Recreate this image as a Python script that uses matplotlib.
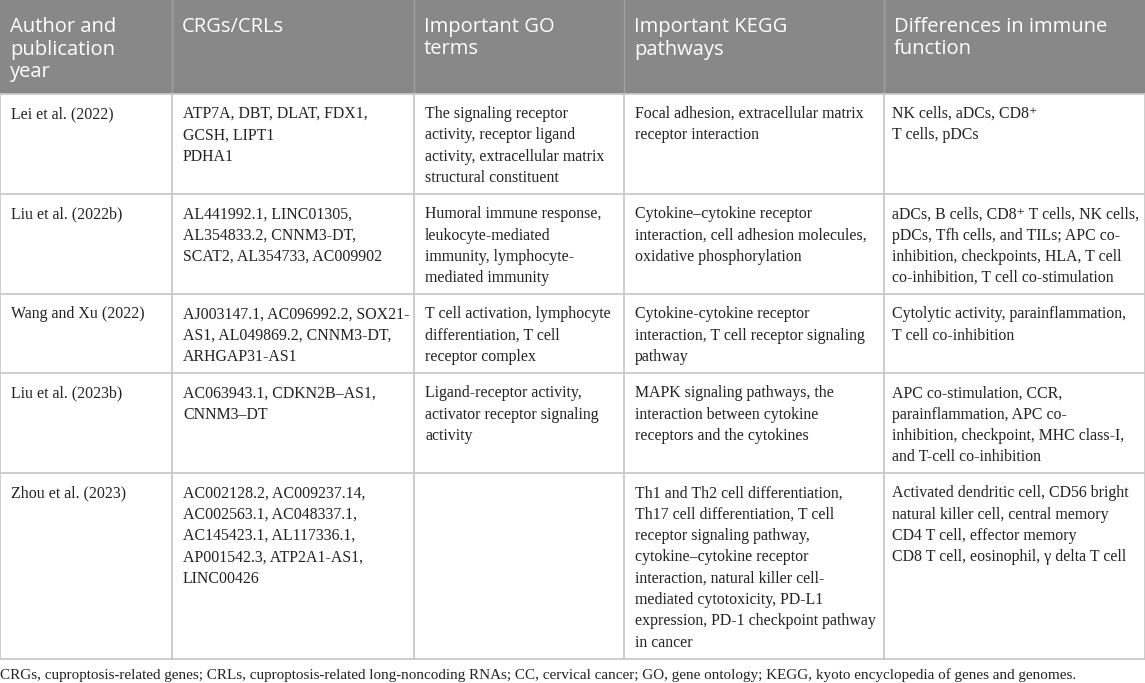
import matplotlib.pyplot as plt
from matplotlib.patches import Rectangle

headers = [
    ["Author and", "publication", "year"],
    ["CRGs/CRLs"],
    ["Important GO", "terms"],
    ["Important KEGG", "pathways"],
    ["Differences in immune", "function"],
]

authors = [
    ["Lei et al. (2022)"],
    ["Liu et al. (2022b)"],
    ["Wang and Xu (2022)"],
    ["Liu et al. (2023b)"],
    ["Zhou et al. (2023)"],
]

crgs = [
    ["ATP7A, DBT, DLAT, FDX1,", "GCSH, LIPT1", "PDHA1"],
    ["AL441992.1, LINC01305,", "AL354833.2, CNNM3-DT,", "SCAT2, AL354733, AC009902"],
    ["AJ003147.1, AC096992.2, SOX21-", "AS1, AL049869.2, CNNM3-DT,", "ARHGAP31-AS1"],
    ["AC063943.1, CDKN2B\u2013AS1,", "CNNM3\u2013DT"],
    ["AC002128.2, AC009237.14,", "AC002563.1, AC048337.1,", "AC145423.1, AL117336.1,",
     "AP001542.3, ATP2A1-AS1,", "LINC00426"],
]

go_terms = [
    ["The signaling receptor", "activity, receptor ligand", "activity, extracellular matrix",
     "structural constituent"],
    ["Humoral immune response,", "leukocyte-mediated", "immunity, lymphocyte-", "mediated immunity"],
    ["T cell activation, lymphocyte", "differentiation, T cell", "receptor complex"],
    ["Ligand-receptor activity,", "activator receptor signaling", "activity"],
    [],
]

kegg = [
    ["Focal adhesion, extracellular matrix", "receptor interaction"],
    ["Cytokine\u2013cytokine receptor", "interaction, cell adhesion molecules,",
     "oxidative phosphorylation"],
    ["Cytokine-cytokine receptor", "interaction, T cell receptor signaling", "pathway"],
    ["MAPK signaling pathways, the", "interaction between cytokine", "receptors and the cytokines"],
    ["Th1 and Th2 cell differentiation,", "Th17 cell differentiation, T cell",
     "receptor signaling pathway,", "cytokine\u2013cytokine receptor",
     "interaction, natural killer cell-", "mediated cytotoxicity, PD-L1",
     "expression, PD-1 checkpoint pathway", "in cancer"],
]

immune = [
    ["NK cells, aDCs, CD8\u207a", "T cells, pDCs"],
    ["aDCs, B cells, CD8\u207a T cells, NK cells,", "pDCs, Tfh cells, and TILs; APC co-",
     "inhibition, checkpoints, HLA, T cell", "co-inhibition, T cell co-stimulation"],
    ["Cytolytic activity, parainflammation,", "T cell co-inhibition"],
    ["APC co-stimulation, CCR,", "parainflammation, APC co-",
     "inhibition, checkpoint, MHC class-I,", "and T-cell co-inhibition"],
    ["Activated dendritic cell, CD56 bright", "natural killer cell, central memory",
     "CD4 T cell, effector memory", "CD8 T cell, eosinophil, \u03b3 delta T cell"],
]

footnote = ("CRGs, cuproptosis-related genes; CRLs, cuproptosis-related long-noncoding RNAs; "
            "CC, cervical cancer; GO, gene ontology; KEGG, kyoto encyclopedia of genes and genomes.")

columns = [authors, crgs, go_terms, kegg, immune]

# layout in pixels
col_x = [0, 172, 414, 624, 884, 1145]
pad_x = [11, 11, 11, 11, 8]
header_h = 94
line_h = 21.3
pad = 15

row_y = [header_h]
for i in range(len(authors)):
    n = max(len(c[i]) for c in columns)
    row_y.append(row_y[-1] + n * line_h + pad)

serif = ["Liberation Serif", "DejaVu Serif"]
ink = "#222222"

fig = plt.figure(figsize=(11.45, 6.83), dpi=100)
ax = fig.add_axes([0, 0, 1, 1])
ax.set_xlim(0, 1145)
ax.set_ylim(683, 0)
ax.axis("off")

ax.add_patch(Rectangle((0, 0), col_x[-1], header_h, facecolor="#888888", edgecolor="none"))
for x in col_x[1:-1]:
    ax.plot([x, x], [0, header_h], color="#a0a0a0", lw=1.0)
for j, h in enumerate(headers):
    for k, s in enumerate(h):
        ax.text(col_x[j] + 10, 32 + k * 22.5, s, color="white", family="Open Sans",
                fontsize=14.5, va="baseline", ha="left")

grid = "#c9c9c9"
for y in row_y:
    ax.plot([0, col_x[-1]], [y, y], color=grid, lw=1.3)
for x in col_x:
    ax.plot([x, x], [header_h, row_y[-1]], color=grid, lw=1.3)

for j, col in enumerate(columns):
    for i, cell in enumerate(col):
        for k, s in enumerate(cell):
            ax.text(col_x[j] + pad_x[j], row_y[i] + 24 + k * line_h, s, color=ink,
                    family=serif, fontsize=11.4, va="baseline", ha="left")

ax.text(0, 679, footnote, color=ink, family=serif, fontsize=10.9,
        va="baseline", ha="left")

fig.savefig("out.png", dpi=100)
